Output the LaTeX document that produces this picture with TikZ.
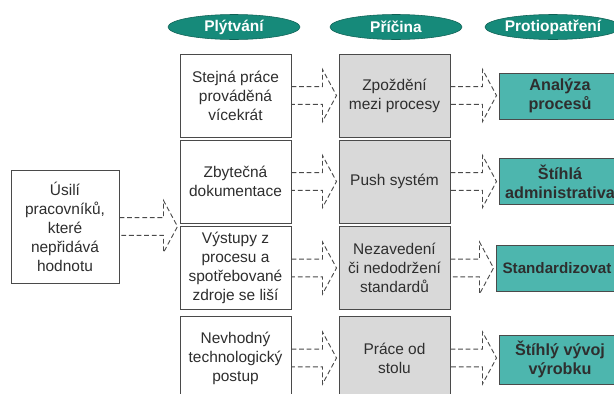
\documentclass[tikz,border=0pt]{standalone}
\usepackage{fontspec}
\setmainfont{Liberation Sans}
\usepackage{tikz}
\usetikzlibrary{shapes.geometric, calc}
\definecolor{wsteal}{HTML}{168A7A}
\definecolor{wsteallight}{HTML}{4DB6AE}
\definecolor{wsgray}{HTML}{D9D9D9}
\definecolor{wsline}{HTML}{4A4A4A}
\definecolor{wstext}{HTML}{2E2E2E}

% hollow dashed block arrow from the east side of #1 to the west side of #2
\newcommand{\hollowarrow}[2]{%
  \draw[flowarrow] let \p1=(#1.east), \p2=(#2.west) in
    (\x1,\y1+2.2mm) -- (\x2-4mm,\y1+2.2mm) -- (\x2-4mm,\y1+6.5mm) -- (\x2-0.5mm,\y1)
    -- (\x2-4mm,\y1-6.5mm) -- (\x2-4mm,\y1-2.2mm) -- (\x1,\y1-2.2mm) -- cycle;}

\begin{document}
\begin{tikzpicture}[x=0.25mm, y=-0.25mm,
    header/.style={ellipse, draw=wsteal!70!black, fill=wsteal, text=white, inner sep=0pt, minimum width=33mm, minimum height=6.25mm, font=\bfseries\fontsize{11}{13}\selectfont},
    waste/.style={rectangle, draw=wsline, line width=0.7pt, fill=white, minimum width=27.75mm, minimum height=20.75mm, inner sep=1pt, align=center, text=wstext, font=\fontsize{11}{13.5}\selectfont},
    cause/.style={waste, fill=wsgray},
    measure/.style={rectangle, draw=wsline, line width=0.7pt, fill=wsteallight, minimum width=30.5mm, minimum height=11.5mm, inner sep=1pt, align=center, text=wstext, font=\bfseries\fontsize{11.5}{13.5}\selectfont},
    flowarrow/.style={draw=wsline, line width=0.65pt, dash pattern=on 1.2mm off 0.7mm}
]
\clip (0,0) rectangle (614,393);

% Headers
\node[header] (hwaste) at (234,27) {Plýtvání};
\node[header] (hcause) at (396,27) {Příčina};
\node[header, minimum width=31.5mm] (hmeasure) at (553,27) {Protiopatření};

% Source
\node[waste, minimum width=27mm, minimum height=28.25mm] (effort) at (65,226.5) {Úsilí\\pracovníků,\\které\\nepřidává\\hodnotu};

% Waste
\node[waste] (waste1) at (235.5,95.5) {Stejná práce\\prováděná\\vícekrát};
\node[waste] (waste2) at (235.5,181.5) {Zbytečná\\dokumentace};
\node[waste] (waste3) at (235.5,268) {Výstupy z\\procesu a\\spotřebované\\zdroje se liší};
\node[waste] (waste4) at (235.5,358) {Nevhodný\\technologický\\postup};

% Causes
\node[cause] (cause1) at (394.5,95.5) {Zpoždění\\mezi procesy};
\node[cause] (cause2) at (394.5,181.5) {Push systém};
\node[cause] (cause3) at (394.5,268) {Nezavedení\\či nedodržení\\standardů};
\node[cause] (cause4) at (394.5,358) {Práce od\\stolu};

% Countermeasures
\node[measure] (measure1) at (560,96) {Analýza\\procesů};
\node[measure] (measure2) at (560,181.5) {Štíhlá\\administrativa};
\node[measure, font=\bfseries\fontsize{10.8}{13}\selectfont] (measure3) at (557,268) {Standardizovat};
\node[measure, minimum height=12.25mm] (measure4) at (560,359.5) {Štíhlý vývoj\\výrobku};

% Arrows
\hollowarrow{effort}{waste2}
\foreach \i in {1,...,4} {
  \hollowarrow{waste\i}{cause\i}
  \hollowarrow{cause\i}{measure\i}
}

\end{tikzpicture}
\end{document}
